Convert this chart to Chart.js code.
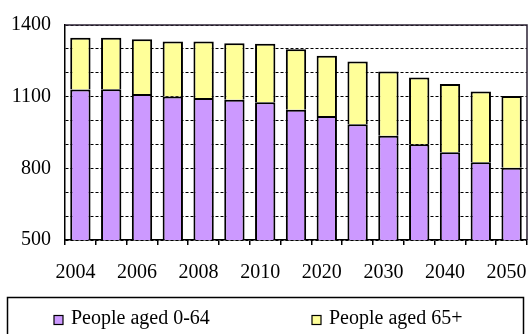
<!doctype html>
<html>
<head>
  <meta charset="utf-8" />
  <title>People aged 0-64 / 65+</title>
  <script src="https://cdn.jsdelivr.net/npm/chart.js"></script>
  <style>
    html, body { margin: 0; padding: 0; background: #fff; }
    #wrap { width: 532px; height: 334px; }
  </style>
</head>
<body>
  <div id="wrap"><canvas id="popChart" width="532" height="334"></canvas></div>

<script>
  var years = ['2004','2005','2006','2007','2008','2009','2010','2015','2020','2025','2030','2035','2040','2045','2050'];
  var aged0to64 = [1130, 1131, 1111, 1101, 1094, 1087, 1077, 1045, 1019, 985, 936, 901, 867, 825, 802];
  var aged65plus = [217, 216, 229, 230, 237, 237, 245, 253, 252, 262, 269, 279, 286, 297, 301];
  var seriesNames = ['People aged 0-64', 'People aged 65+'];
  var seriesColors = ['#CC99FF', '#FFFF99'];
  var yTicksShown = [500, 800, 1100, 1400];

  var FONT = 'Liberation Serif, Times New Roman, serif';

  // frame round the plot + legend box drawn by hand
  var framePlugin = {
    id: 'frame',
    afterDraw: function (chart) {
      var ctx = chart.ctx, a = chart.chartArea;
      ctx.save();
      ctx.strokeStyle = '#2b2233';
      ctx.lineWidth = 1.5;
      ctx.beginPath();
      ctx.moveTo(a.left, a.top);
      ctx.lineTo(a.right, a.top);
      ctx.lineTo(a.right, a.bottom);
      ctx.stroke();

      // legend
      var top = 297.5;
      ctx.strokeStyle = '#000';
      ctx.lineWidth = 1.5;
      ctx.strokeRect(7.5, top, chart.width - 16, 60);
      ctx.font = '20px ' + FONT;
      ctx.textBaseline = 'alphabetic';
      var xs = [54, 312];
      chart.data.datasets.forEach(function (ds, i) {
        ctx.fillStyle = ds.backgroundColor;
        ctx.fillRect(xs[i], top + 18, 9, 9);
        ctx.lineWidth = 1.2;
        ctx.strokeStyle = '#000';
        ctx.strokeRect(xs[i], top + 18, 9, 9);
        ctx.fillStyle = '#000';
        ctx.fillText(ds.label, xs[i] + 17, top + 26);
      });
      ctx.restore();
    }
  };

  var ctx = document.getElementById('popChart').getContext('2d');
  var popChart = new Chart(ctx, {
    type: 'bar',
    data: {
      labels: years,
      datasets: [
        {
          label: seriesNames[0],
          data: aged0to64,
          backgroundColor: seriesColors[0],
          borderColor: '#000',
          borderWidth: 2
        },
        {
          label: seriesNames[1],
          data: aged65plus,
          backgroundColor: seriesColors[1],
          borderColor: '#000',
          borderWidth: 2
        }
      ]
    },
    options: {
      responsive: false,
      animation: false,
      layout: { padding: { top: 25, right: 5, bottom: 54, left: 0 } },
      datasets: { bar: { barPercentage: 0.66, categoryPercentage: 1 } },
      scales: {
        x: {
          stacked: true,
          offset: true,
          afterFit: function (s) { s.height = 40; s.paddingLeft = 0; s.paddingRight = 0; },
          grid: { display: true, drawOnChartArea: false, drawTicks: true, tickLength: 5, color: '#000', lineWidth: 1.5, offset: true },
          border: { display: true, color: '#000', width: 1.5 },
          ticks: {
            autoSkip: false,
            maxRotation: 0,
            padding: 16,
            labelOffset: -5,
            color: '#000',
            font: { family: FONT, size: 20 },
            callback: function (v, i) { return i % 2 === 0 ? years[i] : ''; }
          }
        },
        y: {
          stacked: true,
          min: 500,
          max: 1400,
          afterFit: function (s) { s.width = 65; s.paddingTop = 0; s.paddingBottom = 0; },
          grid: { color: '#000', lineWidth: 1, drawTicks: false },
          border: { display: true, color: '#000', width: 1.5, dash: [3, 2] },
          ticks: {
            stepSize: 100,
            autoSkip: false,
            padding: 14,
            color: '#000',
            font: { family: FONT, size: 20 },
            callback: function (v) { return yTicksShown.indexOf(v) >= 0 ? v : ''; }
          }
        }
      },
      plugins: {
        legend: { display: false },
        tooltip: { enabled: false }
      }
    },
    plugins: [framePlugin]
  });
</script>
</body>
</html>
